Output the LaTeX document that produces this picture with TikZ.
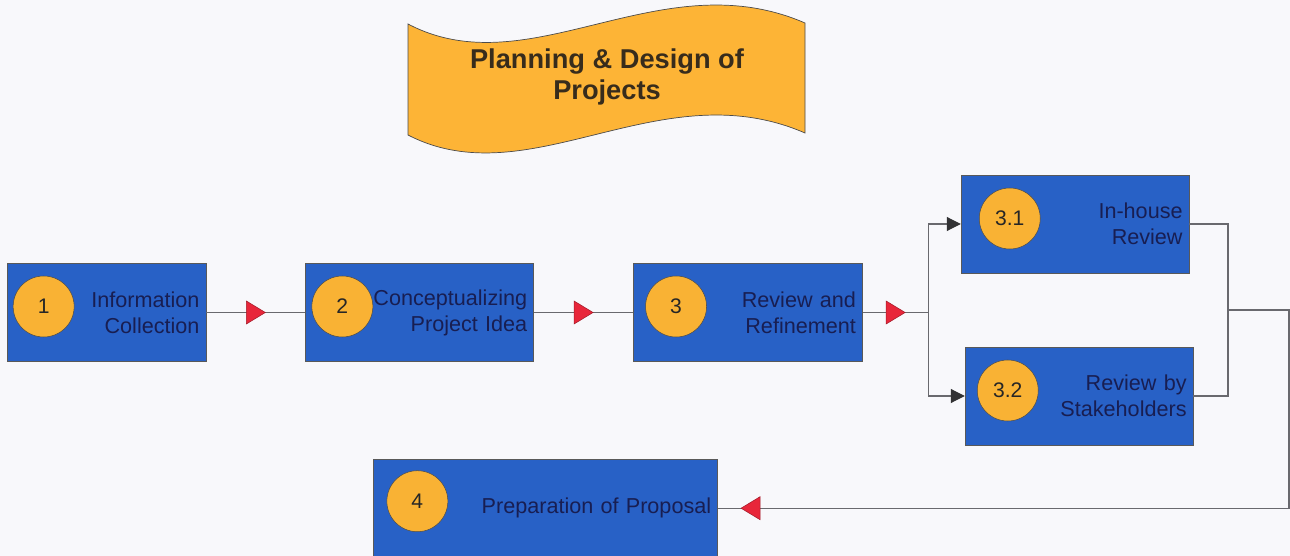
\documentclass[tikz,border=0pt]{standalone}
\usepackage{fontspec}
\setmainfont{Liberation Sans}
\usetikzlibrary{positioning,arrows.meta,decorations.markings}

\definecolor{pagetint}{RGB}{248,248,251}
\definecolor{boxblue}{RGB}{40,97,198}
\definecolor{navytext}{RGB}{24,30,82}
\definecolor{numorange}{RGB}{249,178,52}
\definecolor{bannerorange}{RGB}{253,180,54}
\definecolor{titleink}{RGB}{55,44,28}
\definecolor{linegray}{RGB}{105,105,110}
\definecolor{tipgray}{RGB}{50,50,52}
\definecolor{flowred}{RGB}{232,38,58}

\begin{document}
\begin{tikzpicture}[font=\fontsize{12.3}{14.8}\selectfont,
    stage/.style={rectangle,
          fill=boxblue,
          draw=gray!70!black,
          line width=0.4pt,
          text=navytext,
          align=right,
          minimum height=1.96cm,
          inner xsep=0.13cm,
          text width=#1},
    num/.style={circle,
          fill=numorange,
          draw=gray!60!black,
          line width=0.3pt,
          minimum size=1.22cm,
          inner sep=0pt,
          text=black!85,
          font=\fontsize{12}{14}\selectfont},
    wire/.style={draw=linegray, line width=0.6pt},
    link/.style={wire, -{Triangle[length=0.28cm,width=0.28cm,color=tipgray]}},
    flow/.style={wire,
          postaction={decorate},
          decoration={markings,
            mark=at position #1 with {\filldraw[fill=flowred, draw=flowred!70!black, line width=0.3pt]
              (0.19,0) -- (-0.19,0.23) -- (-0.19,-0.23) -- cycle;}}}]
   \useasboundingbox (0,0) rectangle (25.8,-11.12);
   \fill[pagetint] (0,0) rectangle (25.8,-11.12);

   % title banner
   \filldraw[fill=bannerorange, draw=gray!60!black, line width=0.4pt]
      (8.16,-0.48) .. controls (10.60,-1.76) and (13.20,0.80) .. (16.10,-0.46)
      -- (16.10,-2.66) .. controls (13.20,-1.40) and (10.60,-3.96) .. (8.16,-2.70) -- cycle;
   \node[font=\fontsize{15.5}{17.6}\selectfont\bfseries,
          text=titleink,
          align=center] (title) at (12.14,-1.54) {Planning \& Design of\\Projects};

   % stages
   \node[stage=3.72cm] (collect) at (2.13,-6.25) {Information\\Collection};
   \node[stage=4.30cm,
          right=1.98cm of collect] (concept) {Conceptualizing\\Project Idea};
   \node[stage=4.32cm,
          right=1.98cm of concept] (refine) {Review and\\Refinement};
   \node[stage=4.30cm,
          right=1.96cm of refine,
          yshift=1.77cm] (inhouse) {In-house\\Review};
   \node[stage=4.30cm,
          right=2.04cm of refine,
          yshift=-1.67cm] (stake) {Review by\\Stakeholders};
   \node[stage=6.62cm,
          below right=1.94cm and 1.36cm of concept.south west] (proposal) {Preparation of Proposal};

   % step numbers
   \node[num, xshift=0.74cm, yshift=0.12cm] (n1) at (collect.west) {1};
   \node[num, xshift=0.74cm, yshift=0.12cm] (n2) at (concept.west) {2};
   \node[num, xshift=0.86cm, yshift=0.12cm] (n3) at (refine.west) {3};
   \node[num, xshift=0.98cm, yshift=0.11cm] (n31) at (inhouse.west) {3.1};
   \node[num, xshift=0.86cm, yshift=0.11cm] (n32) at (stake.west) {3.2};
   \node[num, xshift=0.88cm, yshift=0.14cm] (n4) at (proposal.west) {4};

   % connectors
   \coordinate (split) at (18.57,-6.25);
   \coordinate (merge) at (24.56,-6.20);
   \coordinate (rim) at (25.78,-6.20);
   \draw[flow=0.5] (collect) -- (concept);
   \draw[flow=0.5] (concept) -- (refine);
   \draw[flow=0.5] (refine) -- (split);
   \draw[link] (split) |- (inhouse);
   \draw[link] (split) |- (stake);
   \draw[wire] (inhouse) -| (merge) |- (stake);
   \draw[flow=-0.65cm] (merge) -- (rim) |- (proposal);
\end{tikzpicture}
\end{document}
